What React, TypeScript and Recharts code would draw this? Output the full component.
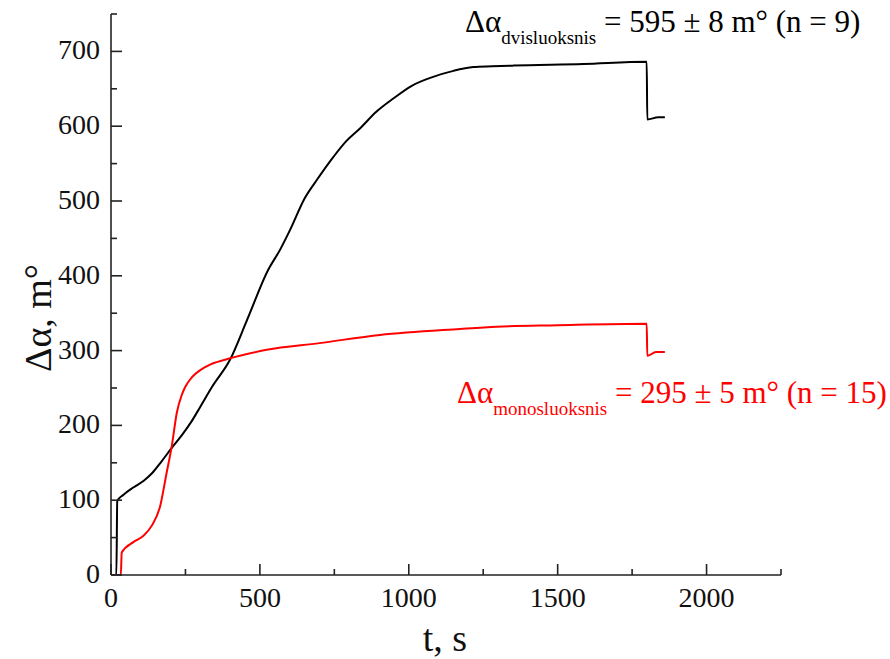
import { Line, LineChart, XAxis, YAxis } from 'recharts';

// Δα(t) kinetics
const DVI_T = [0, 18, 21, 41, 75, 110, 140, 170, 204, 240, 270, 300, 340, 400, 456, 528, 568, 601, 651, 691, 747, 790, 836, 890, 948, 1010, 1082, 1150, 1217, 1280, 1351, 1586, 1799, 1801, 1838, 1860];
const DVI_A = [0, 0, 99, 107, 117, 126, 137, 152, 170, 188, 205, 225, 252, 288, 340, 408, 435, 461, 504, 528, 559, 580, 597, 619, 637, 654, 666, 674, 679, 680, 681, 683, 686, 609, 612, 612];

const MONO_T = [0, 33, 36, 75, 108, 137, 165, 187, 204, 221, 237, 250, 265, 321, 394, 523, 700, 903, 1172, 1295, 1500, 1799, 1801, 1830, 1860];
const MONO_A = [0, 0, 30, 44, 52, 66, 92, 137, 172, 217, 240, 252, 261, 279, 289, 301, 310, 321, 329, 332, 334, 336, 293, 298, 298];

const X_TICKS = [0, 250, 500, 750, 1000, 1250, 1500, 1750, 2000, 2250];
const Y_TICKS = [0, 50, 100, 150, 200, 250, 300, 350, 400, 450, 500, 550, 600, 650, 700, 750];

const dviData = DVI_T.map((t, i) => ({ t, a: DVI_A[i] }));
const monoData = MONO_T.map((t, i) => ({ t, a: MONO_A[i] }));

const FONT = '"Liberation Serif", "Times New Roman", serif';
const AXIS = '#222';

function XTick({ x, y, payload }: any) {
  const major = payload.value % 500 === 0;
  return (
    <g>
      <line x1={x} x2={x} y1={y} y2={y - (major ? 11 : 6)} stroke={AXIS} strokeWidth={1.6} />
      {major && (
        <text x={x} y={y + 32} textAnchor="middle" fontFamily={FONT} fontSize={28} fill="#111">
          {payload.value}
        </text>
      )}
    </g>
  );
}

function YTick({ x, y, payload }: any) {
  const major = payload.value % 100 === 0;
  return (
    <g>
      <line x1={x} x2={x + (major ? 11 : 6)} y1={y} y2={y} stroke={AXIS} strokeWidth={1.6} />
      {major && (
        <text x={x - 11} y={y + 8} textAnchor="end" fontFamily={FONT} fontSize={28} fill="#111">
          {payload.value}
        </text>
      )}
    </g>
  );
}

export default function App() {
  return (
    <div style={{ position: 'absolute', left: 0, top: 0, width: 890, height: 659, background: '#fff' }}>
      <LineChart width={890} height={659} data={dviData} margin={{ top: 14, right: 109, bottom: 44, left: 0 }}>
        <XAxis
          type="number"
          dataKey="t"
          domain={[0, 2250]}
          ticks={X_TICKS}
          height={40}
          tickSize={0}
          tickMargin={0}
          tickLine={false}
          tick={<XTick />}
          stroke={AXIS}
          strokeWidth={1.6}
          interval={0}
          allowDataOverflow
        />
        <YAxis
          type="number"
          dataKey="a"
          domain={[0, 750]}
          ticks={Y_TICKS}
          width={111}
          tickSize={0}
          tickMargin={0}
          tickLine={false}
          tick={<YTick />}
          stroke={AXIS}
          strokeWidth={1.6}
          interval={0}
          allowDataOverflow
        />
        <Line
          data={dviData}
          dataKey="a"
          type="monotone"
          stroke="#000"
          strokeWidth={2}
          dot={false}
          isAnimationActive={false}
        />
        <Line
          data={monoData}
          dataKey="a"
          type="monotone"
          stroke="#ff0000"
          strokeWidth={2}
          dot={false}
          isAnimationActive={false}
        />
        <text x={445} y={651} textAnchor="middle" fontFamily={FONT} fontSize={38} fill="#111">
          t, s
        </text>
        <text
          x={51}
          y={318}
          textAnchor="middle"
          fontFamily={FONT}
          fontSize={38}
          fill="#111"
          transform="rotate(-90, 51, 318)"
        >
          Δα, m°
        </text>
        <text x={465} y={32} fontFamily={FONT} fontSize={31} fill="#000">
          <tspan>Δα</tspan>
          <tspan dy={12} fontSize={19}>dvisluoksnis</tspan>
          <tspan dy={-12}> = 595 ± 8 m° (n = 9)</tspan>
        </text>
        <text x={457} y={403} fontFamily={FONT} fontSize={31} fill="#ff0000">
          <tspan>Δα</tspan>
          <tspan dy={12} fontSize={19}>monosluoksnis</tspan>
          <tspan dy={-12}> = 295 ± 5 m° (n = 15)</tspan>
        </text>
      </LineChart>
    </div>
  );
}
